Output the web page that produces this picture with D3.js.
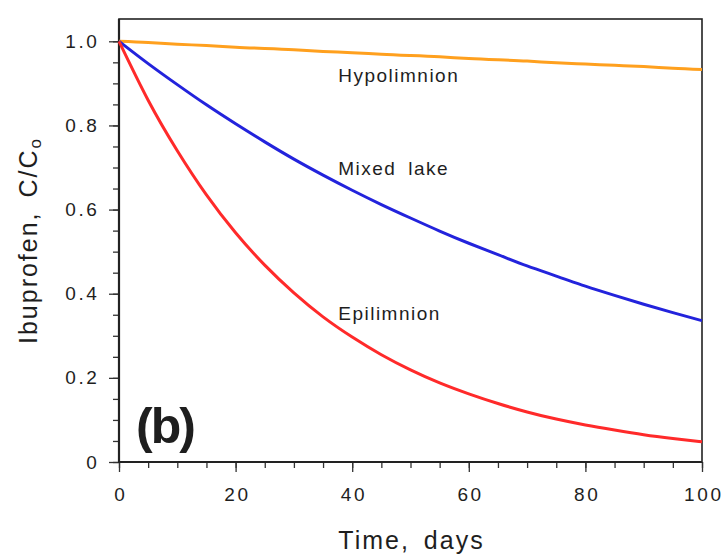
<!DOCTYPE html>
<html>
<head>
<meta charset="utf-8">
<script src="https://cdn.jsdelivr.net/npm/d3@7"></script>
<style>
  body { margin: 0; background: #fff; }
  #chart { width: 724px; height: 554px; }
  text { font-family: "Liberation Sans", Arial, sans-serif; fill: #1e1e1e; }
  .tick-label { font-size: 19px; letter-spacing: 2.6px; }
  .axis-title { font-size: 25px; letter-spacing: 2px; word-spacing: 5px; }
  .curve-label { font-size: 19px; letter-spacing: 1.5px; word-spacing: 5px; }
</style>
</head>
<body>
<div id="chart"></div>
<script>
// values
const days = [0, 5, 10, 15, 20, 25, 30, 35, 40, 45, 50, 55, 60, 65, 70, 75, 80, 85, 90, 95, 100];
const epilimnion = [1.0, 0.86, 0.74, 0.635, 0.545, 0.468, 0.402, 0.345, 0.297, 0.255, 0.219,
  0.188, 0.162, 0.139, 0.119, 0.102, 0.088, 0.076, 0.065, 0.056, 0.048];
const mixedLake = [1.0, 0.947, 0.897, 0.849, 0.804, 0.761, 0.72, 0.682, 0.646, 0.612, 0.58,
  0.549, 0.52, 0.493, 0.466, 0.442, 0.418, 0.396, 0.375, 0.355, 0.336];
const hypolimnion = [1.0, 0.997, 0.993, 0.99, 0.986, 0.983, 0.98, 0.976, 0.973, 0.969, 0.966,
  0.963, 0.959, 0.956, 0.953, 0.949, 0.946, 0.943, 0.94, 0.936, 0.933];

const xTicks = [0, 20, 40, 60, 80, 100];
const yTicks = [0, 0.2, 0.4, 0.6, 0.8, 1.0];
const yTickLabels = ["0", "0.2", "0.4", "0.6", "0.8", "1.0"];

const series = [
  { name: "Hypolimnion", values: hypolimnion, color: "#ffa01e", ly: 82 },
  { name: "Mixed lake", values: mixedLake, color: "#2323dc", ly: 175 },
  { name: "Epilimnion", values: epilimnion, color: "#ff2a2a", ly: 320 }
];
const labelDay = 37.6;

const width = 724;
const height = 554;
const marginTop = 19;
const marginLeft = 119;
const marginRight = 22;
const marginBottom = 92;
const chartWidth = width - marginLeft - marginRight;
const chartHeight = height - marginTop - marginBottom;

const xScale = d3.scaleLinear().domain([0, 100]).range([0, chartWidth]);
const yScale = d3.scaleLinear().domain([0, 1.053]).range([chartHeight, 0]);

const svg = d3.select("#chart")
  .append("svg")
  .attr("width", width)
  .attr("height", height);

const g = svg.append("g")
  .attr("transform", `translate(${marginLeft}, ${marginTop})`);

// minor ticks
g.append("g")
  .attr("transform", `translate(0, ${chartHeight})`)
  .call(d3.axisBottom(xScale).tickValues(d3.range(0, 101, 5)).tickSize(6).tickFormat(""));
g.append("g")
  .call(d3.axisLeft(yScale).tickValues(d3.range(0, 1.001, 0.05)).tickSize(6).tickFormat(""));

// major ticks
const xAxis = g.append("g")
  .attr("transform", `translate(0, ${chartHeight})`)
  .call(d3.axisBottom(xScale).tickValues(xTicks).tickSize(10).tickFormat(d => d));
xAxis.selectAll("text")
  .attr("class", "tick-label")
  .attr("y", 38.5)
  .attr("dy", 0)
  .attr("dx", 1.3);

const yAxis = g.append("g")
  .call(d3.axisLeft(yScale).tickValues(yTicks).tickSize(10)
    .tickFormat((d, i) => yTickLabels[i]));
yAxis.selectAll("text")
  .attr("class", "tick-label")
  .attr("x", -19.5);

g.selectAll(".domain").remove();
g.selectAll(".tick line").attr("stroke", "#333").attr("stroke-width", 1.3);
g.selectAll(".tick text").attr("fill", "#1e1e1e");

// frame
g.append("rect")
  .attr("width", chartWidth)
  .attr("height", chartHeight)
  .attr("fill", "none")
  .attr("stroke", "#222")
  .attr("stroke-width", 1.6);
g.append("path")
  .attr("d", `M0,0V${chartHeight}H${chartWidth}`)
  .attr("fill", "none")
  .attr("stroke", "#222")
  .attr("stroke-width", 2.2);

// curves
const line = d3.line()
  .x((d, i) => xScale(days[i]))
  .y(d => yScale(d))
  .curve(d3.curveNatural);

g.selectAll(".curve")
  .data(series)
  .join("path")
  .attr("class", "curve")
  .attr("d", d => line(d.values))
  .attr("fill", "none")
  .attr("stroke", d => d.color)
  .attr("stroke-width", 3);

g.selectAll(".curve-label")
  .data(series)
  .join("text")
  .attr("class", "curve-label")
  .attr("x", xScale(labelDay))
  .attr("y", d => d.ly - marginTop)
  .text(d => d.name);

// panel letter
g.append("text")
  .attr("x", 17)
  .attr("y", 443 - marginTop)
  .attr("font-size", 50)
  .attr("font-weight", "bold")
  .attr("letter-spacing", -2)
  .text("(b)");

// axis titles
svg.append("text")
  .attr("class", "axis-title")
  .attr("x", marginLeft + chartWidth / 2 + 1)
  .attr("y", 549)
  .attr("text-anchor", "middle")
  .text("Time, days");

const yTitle = svg.append("text")
  .attr("class", "axis-title")
  .attr("text-anchor", "middle")
  .attr("transform", `translate(37, ${marginTop + chartHeight / 2}) rotate(-90)`);
yTitle.append("tspan").text("Ibuprofen, C/C");
yTitle.append("tspan").attr("font-size", 17).attr("dy", 4).text("o");
</script>
</body>
</html>
